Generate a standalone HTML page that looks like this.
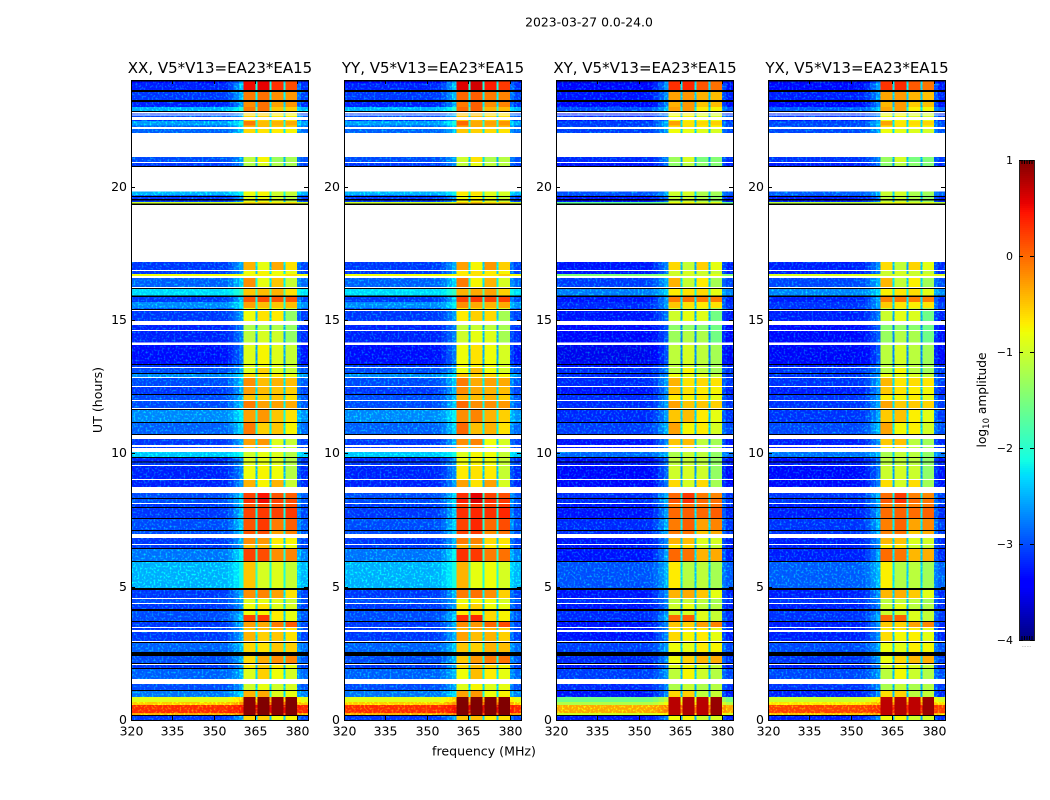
<!DOCTYPE html>
<html lang="en">
<head>
<meta charset="utf-8">
<title>2023-03-27 amplitude waterfall</title>
<style>
html,body{margin:0;padding:0;background:#fff;}
svg{display:block;}
text{font-family:"DejaVu Sans","Liberation Sans",sans-serif;fill:#000;}
</style>
</head>
<body>
<svg id="figure" xmlns="http://www.w3.org/2000/svg" width="1050" height="800" viewBox="0 0 1050 800">
<defs>
<filter id="speckle" x="0" y="0" width="1" height="1" color-interpolation-filters="sRGB">
<feTurbulence type="fractalNoise" baseFrequency="0.5" numOctaves="1" seed="3" result="n"/>
<feColorMatrix in="n" type="matrix" values="0 0 0 0 0  1.3 0 0 0 -0.62  0 0 0 0 0  0 0 0 0 1" result="g"/>
<feComposite in="g" in2="SourceAlpha" operator="in" result="gi"/>
<feComposite in="SourceGraphic" in2="gi" operator="arithmetic" k1="0" k2="1" k3="1" k4="0"/>
</filter>
</defs>
<rect x="0" y="0" width="1050" height="800" fill="#fff"/>
<text x="589" y="26.5" font-size="12.4" text-anchor="middle">2023-03-27 0.0-24.0</text>
<text x="484" y="755.5" font-size="12.6" text-anchor="middle">frequency (MHz)</text>
<text transform="translate(102,400) rotate(-90)" font-size="12.6" text-anchor="middle">UT (hours)</text>
<text transform="translate(986,400) rotate(-90)" font-size="12.2" text-anchor="middle">log<tspan font-size="8.5" dy="3">10</tspan><tspan dy="-3"> amplitude</tspan></text>
<g id="panels"></g>
<g id="colorbar"></g>
</svg>
<script>
const N = null;   // flagged time range (drawn white)
const K = -9;     // dead time range (below colour range, drawn black)

const panelTitles = ["XX, V5*V13=EA23*EA15","YY, V5*V13=EA23*EA15","XY, V5*V13=EA23*EA15","YX, V5*V13=EA23*EA15"];
const panelBackgroundShift = [-0.15, -0.15, -0.32, -0.27];
const panelSubbandShift = [0, 0.1, -0.2, -0.22];
const panelBrightRowShift = [0, 0, -0.5, 0];
const panelFaintRowShift = [0, 0, -0.3, -0.3];
const subbandTrim = [0, 0.05, 0, 0.15];

const hourTicks = [0, 5, 10, 15, 20];
const frequencyTicks = [320, 335, 350, 365, 380];
const colorbarTicks = [-4, -3, -2, -1, 0, 1];

// channel layout: edges in MHz, source series (1-4 = subband) and mix from background towards that subband
const channelEdges = [320, 352, 355, 357, 359, 360.6, 365.0, 365.7, 370.1, 370.8, 375.1, 375.8, 380.1, 381.5, 384];
const channelSubband = [1, 1, 1, 1, 1, 1, 1, 2, 2, 3, 3, 4, 4, 4];
const channelMix = [0, 0.01, 0.05, 0.12, 0.2, 1, 0.3, 1, 0.3, 1, 0.3, 1, 0.1, 0.02];

const rowStartHour = [
0,.15,.19,.26,.56,.68,.86,1.09,1.13,1.35,
1.54,1.91,1.95,2.06,2.10,2.14,2.40,2.55,2.89,2.93,
2.96,3.30,3.38,3.45,3.49,3.68,3.71,3.94,4.09,4.16,
4.35,4.39,4.54,4.58,4.88,4.95,5.93,5.96,6.41,6.45,
6.56,6.60,6.83,6.98,7.09,7.13,7.54,7.58,7.95,7.99,
8.10,8.14,8.29,8.33,8.51,8.74,9.00,9.04,9.53,9.56,
9.66,9.70,9.83,9.86,10.05,10.20,10.24,10.31,10.54,10.69,
10.73,11.14,11.18,11.63,11.66,11.70,11.96,12.00,12.19,12.23,
12.49,12.53,12.83,12.86,12.98,13.01,13.20,13.24,13.31,13.35,
14.06,14.16,14.59,14.63,14.81,14.96,15.34,15.38,15.41,15.45,
15.68,15.86,15.92,16.16,16.20,16.24,16.58,16.65,16.73,16.84,
16.88,17.18,19.32,19.36,19.42,19.49,19.53,19.61,19.65,19.69,
19.81,20.74,20.78,20.89,20.93,21.11,22.01,22.16,22.24,22.30,
22.46,22.50,22.61,22.67,22.71,22.74,22.80,22.84,22.99,23.18,
23.25,23.55,23.63,23.89,23.95,24];

const backgroundLog = [
-3,K,-.15,.5,-.35,-.75,-2.7,K,-2.9,N,
-2.8,K,-3,N,K,-2.9,K,-2.8,K,N,
-3,N,-3,N,-3,K,-2.9,-2.9,K,-3,
N,-2.9,N,-3,K,-2.4,K,-2.7,K,-3,
N,-3,N,-2.9,K,-2.9,K,-3,K,-3,
N,-2.9,K,-2.9,N,-3.1,N,-3.1,N,-3,
K,-3.1,K,-2.3,N,-3,N,-3,N,K,
-2.8,K,-2.6,K,N,-2.9,N,-2.9,K,-3,
N,-2.9,N,-2.6,K,-2.9,N,-3,K,-3.2,
N,-3.1,N,-3.1,N,-3,N,K,-2.9,-2.6,
-3,K,-2.2,K,N,-2.8,N,-.65,-3,N,
-3,N,K,-.85,-3,K,-3,K,-2.8,-2.4,
N,K,-3,N,-2.9,N,-2.8,N,-2.8,-2.5,
-3,N,-2.9,N,-3,N,K,-2.4,-3.1,K,
-3,K,-3.1,-3.3,K];

const subband1Log = [
-.6,N,.95,.95,.95,.95,-.4,N,-1,N,
-.9,N,-.7,N,N,-.6,N,-.6,N,N,
-.4,N,-.5,N,-.3,N,.2,-.8,N,-.8,
N,-.9,N,-.2,N,-.5,N,.2,N,-.5,
N,-.2,N,.1,N,.1,N,.2,N,.1,
N,.3,N,.2,N,-.4,N,-.8,N,-.9,
N,-.9,N,-1,N,-.5,N,-.3,N,N,
-.1,N,-.3,N,N,-.1,N,-.5,N,-.3,
N,-.2,N,-.6,N,-.9,N,-.9,N,-.9,
N,-1.1,N,-1.2,N,-.8,N,N,-.8,-.3,
.1,N,-.5,N,N,-.2,N,-.8,-.8,N,
-.4,N,N,-.6,-.9,N,-.9,N,-.9,-.8,
N,N,-1.2,N,-1.1,N,-.6,N,-.4,-.1,
-.6,N,-.6,N,-.6,N,N,-.1,-.2,N,
-.1,N,.5,.5,N];

const subband2Log = [
-.6,N,.95,.95,.95,.95,-.4,N,-.9,N,
-.6,N,-.6,N,N,-.4,N,-.7,N,N,
-.6,N,-.5,N,-.4,N,.2,-.8,N,-.7,
N,-.9,N,-.2,N,-1,N,.1,N,-.5,
N,-.3,N,.1,N,.2,N,.2,N,.1,
N,.45,N,.4,N,-.8,N,-.8,N,-.9,
N,-.9,N,-.9,N,-.5,N,-.3,N,N,
-.6,N,-.3,N,N,-.35,N,-.6,N,-.5,
N,-.5,N,-.7,N,-.6,N,-.9,N,-.8,
N,-1,N,-1.2,N,-.7,N,N,-.8,-.5,
.1,N,-.5,N,N,-.9,N,-.8,-.8,N,
-.9,N,N,-.6,-.9,N,-.9,N,-.9,-.8,
N,N,-1,N,-.8,N,-.7,N,-.5,-.5,
-.6,N,-.6,N,-.6,N,N,-.1,-.1,N,
-.1,N,.5,.5,N];

const subband3Log = [
-.8,N,.95,.95,.95,.95,-.9,N,-1,N,
-.8,N,-.7,N,N,-.2,N,-.5,N,N,
-.5,N,-.5,N,-.1,N,-.7,-.7,N,-.9,
N,-.9,N,-.3,N,-.9,N,-.2,N,-.8,
N,-.7,N,-.3,N,-.1,N,.2,N,.1,
N,.2,N,.1,N,-.4,N,-.8,N,-.9,
N,-.9,N,-.9,N,-.9,N,-.9,N,N,
-.5,N,-.5,N,N,-.3,N,-.5,N,-.5,
N,-.4,N,-.7,N,-.9,N,-.9,N,-.9,
N,-1,N,-1.2,N,-.7,N,N,-.8,-.5,
.1,N,-.4,N,N,-.5,N,-.8,-.8,N,
-.35,N,N,-.7,-1,N,-1,N,-1,-1,
N,N,-1.2,N,-1.3,N,-.7,N,-.5,-.4,
-.6,N,-.7,N,-.7,N,N,-.5,-.3,N,
-.2,N,.3,.3,N];

const subband4Log = [
-.9,N,.95,.95,.95,.95,-1,N,-1.1,N,
-1.1,N,-1,N,N,-.3,N,-.7,N,N,
-.8,N,-.8,N,-.1,N,-1,-1,N,-1.1,
N,-1.2,N,-.8,N,-1.2,N,-.3,N,-1,
N,-.9,N,-.3,N,-.1,N,.1,N,0,
N,0,N,-.1,N,-1.2,N,-1.3,N,-1.3,
N,-1.3,N,-1.3,N,-1.2,N,-1.2,N,N,
-.9,N,-.8,N,N,-.5,N,-.8,N,-.7,
N,-.6,N,-1,N,-1.2,N,-1.2,N,-1.2,
N,-1.5,N,-1.5,N,-1.5,N,N,-1.2,-.6,
-.05,N,-.8,N,N,-1.2,N,-.8,-1,N,
-.8,N,N,-.8,-1.3,N,-1.3,N,-1.3,-1.2,
N,N,-1.4,N,-1.4,N,-.9,N,-.7,-.5,
-.8,N,-.9,N,-.9,N,N,-.7,-.4,N,
-.4,N,0,0,N];

const subbandSeries = [subband1Log, subband2Log, subband3Log, subband4Log];

const SVG_NS = "http://www.w3.org/2000/svg";
const panelsRoot = document.getElementById("panels");
const colorbarRoot = document.getElementById("colorbar");

const panelWidth = 177;
const panelLefts = [131, 344, 556, 768];
const panelTop = 80;
const panelBottom = 720;

function yOfHour(h) { return panelBottom - (h / 24) * (panelBottom - panelTop); }
function xOfFrequency(left, f) { return left + ((f - 320) / 64) * panelWidth; }

function jetChannel(t, pts) {
  for (let i = 1; i < pts.length; i++) {
    if (t <= pts[i][0]) {
      const a = pts[i - 1], b = pts[i];
      return a[1] + (b[1] - a[1]) * (t - a[0]) / (b[0] - a[0]);
    }
  }
  return pts[pts.length - 1][1];
}
const jetR = [[0,0],[.35,0],[.66,1],[.89,1],[1,.5]];
const jetG = [[0,0],[.125,0],[.375,1],[.64,1],[.91,0],[1,0]];
const jetB = [[0,.5],[.11,1],[.34,1],[.65,0],[1,0]];
function jetColor(logValue) {
  const t = Math.max(0, Math.min(1, (logValue + 4) / 5));
  const r = Math.round(255 * jetChannel(t, jetR));
  const g = Math.round(255 * jetChannel(t, jetG));
  const b = Math.round(255 * jetChannel(t, jetB));
  return "rgb(" + r + "," + g + "," + b + ")";
}

function line(parent, x1, y1, x2, y2, color) {
  const el = document.createElementNS(SVG_NS, "line");
  el.setAttribute("x1", x1);
  el.setAttribute("y1", y1);
  el.setAttribute("x2", x2);
  el.setAttribute("y2", y2);
  el.setAttribute("stroke", color || "#000");
  el.setAttribute("stroke-width", "1");
  el.setAttribute("shape-rendering", "crispEdges");
  parent.appendChild(el);
  return el;
}

function label(parent, x, y, str, size, anchor) {
  const el = document.createElementNS(SVG_NS, "text");
  el.setAttribute("x", x);
  el.setAttribute("y", y);
  el.setAttribute("font-size", size);
  el.setAttribute("text-anchor", anchor);
  el.textContent = str;
  parent.appendChild(el);
  return el;
}

function tickText(v) { return v < 0 ? "\u2212" + Math.abs(v) : String(v); }

panelTitles.forEach(function (title, p) {
  const left = panelLefts[p];
  const right = left + panelWidth;
  const group = document.createElementNS(SVG_NS, "g");
  
  
  panelsRoot.appendChild(group);

  const cells = document.createElementNS(SVG_NS, "g");
  
  
  cells.setAttribute("filter", "url(#speckle)");
  cells.setAttribute("shape-rendering", "crispEdges");
  group.appendChild(cells);

  const bandCells = document.createElementNS(SVG_NS, "g");
  
  
  bandCells.setAttribute("shape-rendering", "crispEdges");
  group.appendChild(bandCells);

  const dead = document.createElementNS(SVG_NS, "g");
  
  
  dead.setAttribute("shape-rendering", "crispEdges");
  group.appendChild(dead);

  backgroundLog.forEach(function (bg, r) {
    if (bg === N) return;
    const yTop = yOfHour(rowStartHour[r + 1]);
    const h = yOfHour(rowStartHour[r]) - yTop;
    if (bg === K) {
      const bar = document.createElementNS(SVG_NS, "rect");
      
      
      bar.setAttribute("x", left);
      bar.setAttribute("y", yTop);
      bar.setAttribute("width", panelWidth);
      bar.setAttribute("height", Math.max(h, 1));
      bar.setAttribute("fill", "#000");
      dead.appendChild(bar);
      return;
    }
    let base = bg + panelBackgroundShift[p];
    if (bg > -1.5) base += panelBrightRowShift[p];
    else if (bg > -2.75) base += panelFaintRowShift[p];
    channelMix.forEach(function (mix, c) {
      const band = channelSubband[c] - 1;
      const sb = subbandSeries[band][r] + panelSubbandShift[p] + subbandTrim[band];
      const value = base + mix * (sb - base);
      const x0 = xOfFrequency(left, channelEdges[c]);
      const x1 = xOfFrequency(left, channelEdges[c + 1]);
      const cell = document.createElementNS(SVG_NS, "rect");
      
      
      cell.setAttribute("x", x0);
      cell.setAttribute("y", yTop);
      cell.setAttribute("width", x1 - x0);
      cell.setAttribute("height", h);
      cell.setAttribute("fill", jetColor(value));
      (mix === 1 ? bandCells : cells).appendChild(cell);
    });
  });

  const frame = document.createElementNS(SVG_NS, "rect");
  
  
  frame.setAttribute("x", left + 0.5);
  frame.setAttribute("y", panelTop + 0.5);
  frame.setAttribute("width", panelWidth);
  frame.setAttribute("height", panelBottom - panelTop);
  frame.setAttribute("fill", "none");
  frame.setAttribute("stroke", "#000");
  frame.setAttribute("stroke-width", "1");
  frame.setAttribute("shape-rendering", "crispEdges");
  group.appendChild(frame);

  frequencyTicks.forEach(function (f) {
    const x = Math.round(xOfFrequency(left, f)) + 0.5;
    const tickA = line(group, x, panelBottom, x, panelBottom - 4);
    
    
    const tickB = line(group, x, panelTop, x, panelTop + 4);
    
    
    const t = label(group, x, panelBottom + 15.5, String(f), 12.5, "middle");
    
    
  });

  hourTicks.forEach(function (h) {
    const y = Math.round(yOfHour(h)) + 0.5;
    const tickA = line(group, left, y, left + 4, y);
    
    
    const tickB = line(group, right, y, right - 4, y);
    
    
    const t = label(group, left - 4, y + 3.5, String(h), 12.5, "end");
    
    
  });

  const titleEl = label(group, left + panelWidth / 2 + 0.5, 73, title, 15, "middle");
  
  
});

// colorbar
const cbLeft = 1019, cbWidth = 15, cbTop = 160, cbBottom = 640;
function yOfLog(v) { return cbBottom - ((v + 4) / 5) * (cbBottom - cbTop); }

const cbRamp = document.createElementNS(SVG_NS, "g");


cbRamp.setAttribute("shape-rendering", "crispEdges");
colorbarRoot.appendChild(cbRamp);
for (let py = cbTop; py < cbBottom; py += 2) {
  const seg = document.createElementNS(SVG_NS, "rect");
  
  
  seg.setAttribute("x", cbLeft);
  seg.setAttribute("y", py);
  seg.setAttribute("width", cbWidth);
  seg.setAttribute("height", 2);
  seg.setAttribute("fill", jetColor(-4 + 5 * (cbBottom - py - 1) / (cbBottom - cbTop)));
  cbRamp.appendChild(seg);
}
const cbFrame = document.createElementNS(SVG_NS, "rect");


cbFrame.setAttribute("x", cbLeft + 0.5);
cbFrame.setAttribute("y", cbTop + 0.5);
cbFrame.setAttribute("width", cbWidth);
cbFrame.setAttribute("height", cbBottom - cbTop);
cbFrame.setAttribute("fill", "none");
cbFrame.setAttribute("stroke", "#222");
cbFrame.setAttribute("stroke-width", "1");
cbFrame.setAttribute("shape-rendering", "crispEdges");
colorbarRoot.appendChild(cbFrame);

colorbarTicks.forEach(function (v) {
  const y = Math.round(yOfLog(v)) + 0.5;
  const a = line(colorbarRoot, cbLeft, y, cbLeft + 4, y);
  
  
  const b = line(colorbarRoot, cbLeft + cbWidth, y, cbLeft + cbWidth - 4, y);
  
  
  const t = label(colorbarRoot, cbLeft - 6, y + 3.5, tickText(v), 11, "end");
  
  
});

for (let i = 1; i <= 5; i++) {
  const px = cbLeft + i * 2.5 + 0.5;
  const topTick = line(colorbarRoot, px, cbTop, px, cbTop + 4);
  
  
  const botTick = line(colorbarRoot, px, cbBottom, px, cbBottom - 4);
  
  
}
const cbDots = label(colorbarRoot, cbLeft + cbWidth / 2, 647, "......", 5, "middle");


cbDots.setAttribute("style", "fill:#777");
</script>
</body>
</html>
